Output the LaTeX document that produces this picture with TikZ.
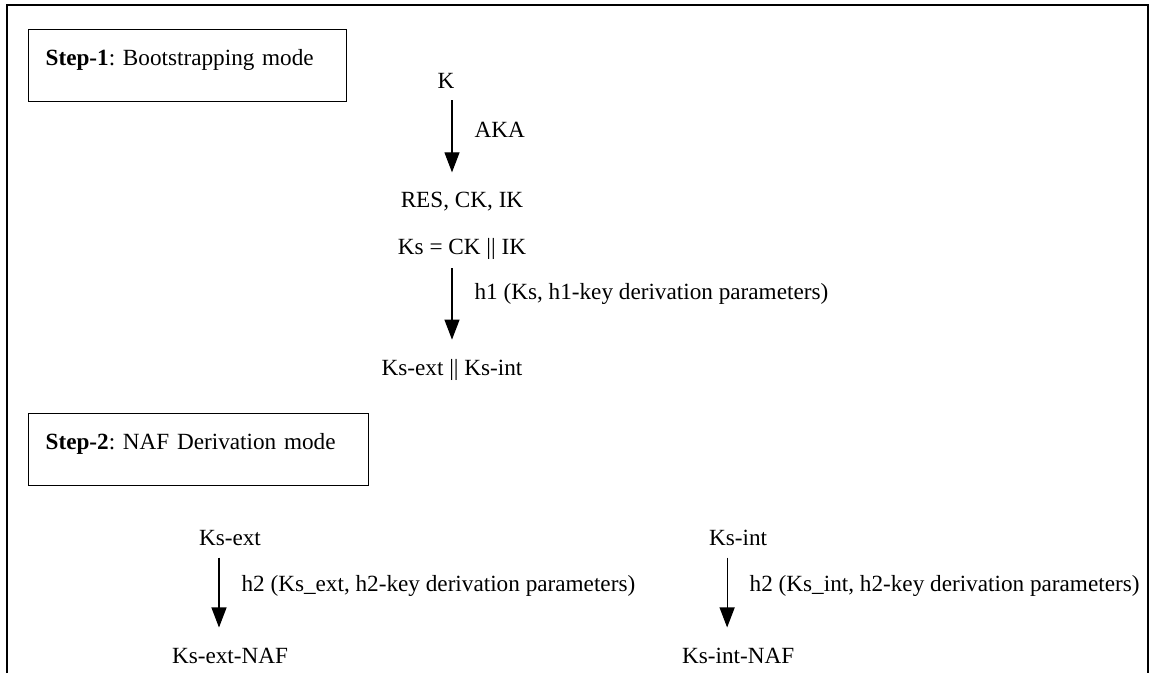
\documentclass[tikz,border=0pt]{standalone}
\usepackage{fontspec}
\setmainfont{Liberation Serif}
\usetikzlibrary{arrows.meta}
\frenchspacing

\begin{document}
\begin{tikzpicture}[x=0.025cm, y=-0.025cm, auto, node distance=2.95cm,
	font=\fontsize{16.5pt}{20pt}\selectfont,
	txt/.style={inner sep=0pt, anchor=base},
	stepbox/.style={draw, line width=0.9pt, anchor=north west, align=left, inner xsep=0.425cm, inner ysep=0.51cm, text height=0.385cm, text depth=0.4cm},
	flow/.style={-{Triangle[width=0.375cm,length=0.5cm]}, line width=0.8pt},
	lbl/.style={right, inner sep=0pt, xshift=0.55cm}]
	\useasboundingbox (0,0) rectangle (1156,673);
	\draw[line width=1.3pt] (7,673) -- (7,5) -- (1148,5) -- (1148,673);
	\node (step1) [stepbox, text width=7.1cm] at (28,29) {\textbf{Step-1}: Bootstrapping mode};
	\node (step2) [stepbox, text width=7.65cm] at (28,413) {\textbf{Step-2}: NAF Derivation mode};
	\node (K) [txt] at (446,88) {K};
	\node (RES) [txt] at (462,207) {RES, CK, IK};
	\node (Ks) [txt] at (462,254) {Ks = CK || IK};
	\node (KsPair) [txt] at (452,375) {Ks-ext || Ks-int};
	\node (KsExt) [txt] at (230,545) {Ks-ext};
	\node (KsExtNAF) [txt, below of=KsExt] {Ks-ext-NAF};
	\node (KsInt) [txt, node distance=12.7cm, right of=KsExt] {Ks-int};
	\node (KsIntNAF) [txt, node distance=12.7cm, right of=KsExtNAF] {Ks-int-NAF};
	\draw[flow, shorten <=0.3cm, shorten >=0.475cm] (K.south -| KsPair) to node[lbl, pos=0.4] {AKA} (RES.north -| KsPair);
	\draw[flow, shorten <=0.225cm, shorten >=0.475cm] (Ks.south -| KsPair) to node[lbl, pos=0.35] {h1 (Ks, h1-key derivation parameters)} (KsPair.north);
	\draw[flow, shorten <=0.3cm, shorten >=0.5cm] ([xshift=-0.275cm]KsExt.south) to node[lbl, pos=0.4] {h2 (Ks\_ext, h2-key derivation parameters)} ([xshift=-0.275cm]KsExtNAF.north);
	\draw[flow, shorten <=0.3cm, shorten >=0.5cm] ([xshift=-0.275cm]KsInt.south) to node[lbl, pos=0.4] {h2 (Ks\_int, h2-key derivation parameters)} ([xshift=-0.275cm]KsIntNAF.north);
\end{tikzpicture}
\end{document}
